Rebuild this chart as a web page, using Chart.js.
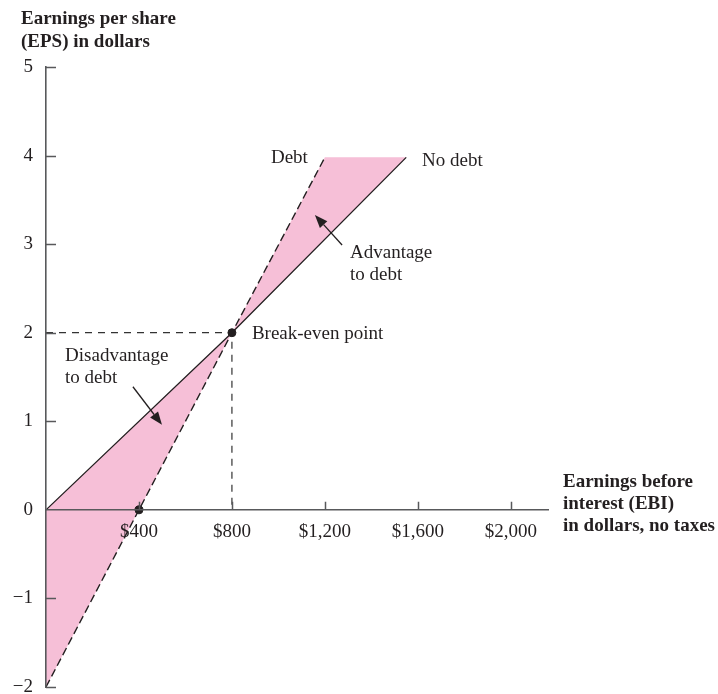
<!DOCTYPE html>
<html>
<head>
    <title>EPS versus EBI</title>
    <script src="https://cdn.jsdelivr.net/npm/chart.js@4.4.0/dist/chart.umd.min.js"></script>
    <style>
        body { margin: 0; background: #fff; }
        .chart-box { width: 718px; height: 694px; }
    </style>
</head>
<body>
    <div class="chart-box"><canvas id="epsChart"></canvas></div>

    <script>
        // EBI (dollars) and EPS (dollars) for the two financing plans
        const noDebtEbi = [0, 800, 1550];
        const noDebtEps = [0, 2, 3.98];
        const debtEbi = [0, 400, 800, 1200];
        const debtEps = [-2, 0, 2, 3.98];
        const markedEbi = [800, 400];
        const markedEps = [2, 0];
        const xTicks = [400, 800, 1200, 1600, 2000];
        const yTicks = [-2, -1, 0, 1, 2, 3, 4, 5];

        // text notes, anchored in data units
        const notes = [
            { lines: ['Debt'], ebi: 968, eps: 3.92 },
            { lines: ['No debt'], ebi: 1618, eps: 3.88 },
            { lines: ['Advantage', 'to debt'], ebi: 1308, eps: 2.84 },
            { lines: ['Disadvantage', 'to debt'], ebi: 82, eps: 1.68 },
            { lines: ['Break-even point'], ebi: 886, eps: 1.93 }
        ];
        const arrows = [
            { from: [1274, 2.99], to: [1157, 3.33] },
            { from: [374, 1.39], to: [499, 0.96] }
        ];

        const ink = '#231f20';
        const axisGrey = '#58595b';
        const pink = '#f6bfd7';
        const serif = "'Liberation Serif', 'Times New Roman', serif";

        const pts = (xs, ys) => xs.map((x, i) => ({ x: x, y: ys[i] }));
        const noDebtPts = pts(noDebtEbi, noDebtEps);
        const debtPts = pts(debtEbi, debtEps);
        // shaded area: along no-debt line, back along debt line
        const shadePts = noDebtPts.concat(debtPts.slice().reverse());
        const be = { x: markedEbi[0], y: markedEps[0] };
        const guidePts = [{ x: 0, y: be.y }, be, { x: be.x, y: 0 }];

        const extras = {
            id: 'extras',
            afterDatasetsDraw(chart) {
                const ctx = chart.ctx;
                const xs = chart.scales.x, ys = chart.scales.y;
                const x0 = xs.getPixelForValue(0), y0 = ys.getPixelForValue(0);
                ctx.save();

                // inward tick marks
                ctx.strokeStyle = axisGrey;
                ctx.lineWidth = 1.5;
                ctx.beginPath();
                yTicks.forEach(v => {
                    if (v === 0) return;
                    const py = Math.round(ys.getPixelForValue(v)) + 0.5;
                    ctx.moveTo(x0, py);
                    ctx.lineTo(x0 + 10, py);
                });
                xTicks.forEach(v => {
                    const px = Math.round(xs.getPixelForValue(v)) + 0.5;
                    ctx.moveTo(px, y0);
                    ctx.lineTo(px, y0 - 8);
                });
                ctx.stroke();

                // notes
                ctx.fillStyle = ink;
                ctx.font = '19px ' + serif;
                ctx.textBaseline = 'alphabetic';
                ctx.textAlign = 'left';
                notes.forEach(n => {
                    const px = xs.getPixelForValue(n.ebi);
                    const py = ys.getPixelForValue(n.eps);
                    n.lines.forEach((t, i) => ctx.fillText(t, px, py + i * 22));
                });

                // arrows
                ctx.strokeStyle = ink;
                ctx.lineWidth = 1.3;
                arrows.forEach(a => {
                    const x1 = xs.getPixelForValue(a.from[0]), y1 = ys.getPixelForValue(a.from[1]);
                    const x2 = xs.getPixelForValue(a.to[0]), y2 = ys.getPixelForValue(a.to[1]);
                    const ang = Math.atan2(y2 - y1, x2 - x1);
                    const len = 13, half = 5;
                    const bx = x2 - len * Math.cos(ang), by = y2 - len * Math.sin(ang);
                    ctx.beginPath();
                    ctx.moveTo(x1, y1);
                    ctx.lineTo(bx, by);
                    ctx.stroke();
                    ctx.beginPath();
                    ctx.moveTo(x2, y2);
                    ctx.lineTo(bx + half * Math.sin(ang), by - half * Math.cos(ang));
                    ctx.lineTo(bx - half * Math.sin(ang), by + half * Math.cos(ang));
                    ctx.closePath();
                    ctx.fill();
                });

                // axis titles
                ctx.font = 'bold 19px ' + serif;
                ctx.fillText('Earnings per share', 21, 24);
                ctx.fillText('(EPS) in dollars', 21, 47);
                ctx.fillText('Earnings before', 563, 487);
                ctx.fillText('interest (EBI)', 563, 509);
                ctx.fillText('in dollars, no taxes', 563, 531);
                ctx.restore();
            }
        };

        Chart.defaults.font.family = serif;
        Chart.defaults.font.size = 19;
        Chart.defaults.color = ink;

        new Chart(document.getElementById('epsChart'), {
            type: 'line',
            data: {
                datasets: [
                    {
                        label: 'Marked points',
                        data: pts(markedEbi, markedEps),
                        showLine: false,
                        pointRadius: 4,
                        pointBackgroundColor: ink,
                        pointBorderColor: ink,
                        clip: false
                    },
                    {
                        label: 'No debt',
                        data: noDebtPts,
                        borderColor: ink,
                        borderWidth: 1.3,
                        pointRadius: 0,
                        fill: false,
                        clip: false
                    },
                    {
                        label: 'Debt',
                        data: debtPts,
                        borderColor: ink,
                        borderWidth: 1.4,
                        borderDash: [8, 4],
                        pointRadius: 0,
                        fill: false,
                        clip: false
                    },
                    {
                        label: 'Break-even guides',
                        data: guidePts,
                        borderColor: '#333',
                        borderWidth: 1.2,
                        borderDash: [7, 6],
                        pointRadius: 0,
                        fill: false,
                        clip: false
                    },
                    {
                        label: 'Shade',
                        data: shadePts,
                        borderColor: 'rgba(0,0,0,0)',
                        backgroundColor: pink,
                        pointRadius: 0,
                        fill: 'shape',
                        clip: false
                    }
                ]
            },
            options: {
                responsive: true,
                maintainAspectRatio: false,
                animation: false,
                events: [],
                layout: { padding: { left: 0, top: 67, right: 170, bottom: 7 } },
                plugins: {
                    legend: { display: false },
                    tooltip: { enabled: false }
                },
                scales: {
                    x: {
                        type: 'linear',
                        min: 0,
                        max: 2160,
                        position: { y: 0 },
                        grid: { display: false, drawTicks: false },
                        border: { display: true, color: axisGrey, width: 1.6, z: 1 },
                        afterBuildTicks: s => { s.ticks = xTicks.map(v => ({ value: v })); },
                        ticks: {
                            z: 1,
                            autoSkip: false,
                            maxRotation: 0,
                            padding: 11,
                            callback: v => '$' + v.toLocaleString('en-US')
                        }
                    },
                    y: {
                        type: 'linear',
                        min: -2,
                        max: 5,
                        grid: { display: false, drawTicks: false },
                        border: { display: true, color: axisGrey, width: 1.6, z: 1 },
                        afterBuildTicks: s => { s.ticks = yTicks.map(v => ({ value: v })); },
                        afterFit: s => { s.width = 46; s.paddingTop = 0; s.paddingBottom = 0; },
                        ticks: {
                            z: 1,
                            padding: 13,
                            callback: v => v < 0 ? '\u2212' + Math.abs(v) : String(v)
                        }
                    }
                }
            },
            plugins: [extras]
        });
    </script>
</body>
</html>
